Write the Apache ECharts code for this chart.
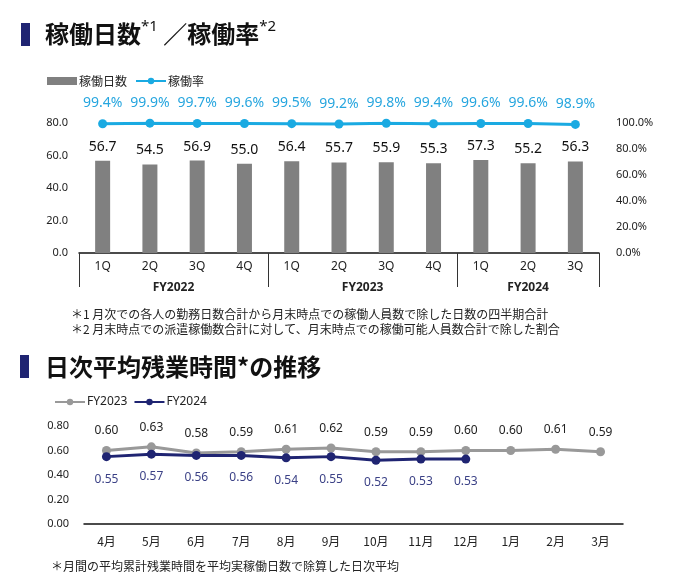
<!DOCTYPE html>
<html>
<head>
<meta charset="utf-8">
<script src="https://cdn.jsdelivr.net/npm/echarts@6/dist/echarts.min.js"></script>
<style>
  html, body { margin: 0; padding: 0; background: #fff; }
  #chart { width: 676px; height: 585px; }
</style>
</head>
<body>
<div id="chart"></div>
<script>
// top chart: quarterly working days and working rate
const quarters = ['1Q', '2Q', '3Q', '4Q', '1Q', '2Q', '3Q', '4Q', '1Q', '2Q', '3Q'];
const fiscalYears = ['FY2022', 'FY2023', 'FY2024'];
const quartersPerYear = [4, 4, 3];
const workDays = [56.7, 54.5, 56.9, 55.0, 56.4, 55.7, 55.9, 55.3, 57.3, 55.2, 56.3];
const workRate = [99.4, 99.9, 99.7, 99.6, 99.5, 99.2, 99.8, 99.4, 99.6, 99.6, 98.9];

// bottom chart: daily average overtime hours
const months = ['4月', '5月', '6月', '7月', '8月', '9月', '10月', '11月', '12月', '1月', '2月', '3月'];
const overtime2023 = [0.60, 0.63, 0.58, 0.59, 0.61, 0.62, 0.59, 0.59, 0.60, 0.60, 0.61, 0.59];
const overtime2024 = [0.55, 0.57, 0.56, 0.56, 0.54, 0.55, 0.52, 0.53, 0.53];

const FONT = '"Noto Sans", "Noto Sans CJK JP", sans-serif';
const JP = '"Noto Sans CJK JP", sans-serif';
const NAVY = '#1f2472';

// year group boundaries and centers on the quarter axis
const groupStarts = [];
const groupCenters = {};
let acc = 0;
quartersPerYear.forEach((n, i) => {
  groupStarts.push(acc);
  groupCenters[acc + n / 2] = fiscalYears[i];
  acc += n;
});

const chart = echarts.init(document.getElementById('chart'));

chart.setOption({
  animation: false,
  textStyle: { fontFamily: FONT },
  grid: [
    { left: 79, right: 77, top: 123, bottom: 332 },
    { left: 84, right: 53, top: 426, bottom: 61 }
  ],
  legend: [
    {
      left: 42, top: 70,
      itemWidth: 30, itemHeight: 8, itemGap: 8,
      textStyle: { fontSize: 12, color: '#222', fontFamily: JP, padding: [0, 0, 0, -3] },
      data: [{ name: '稼働日数', icon: 'rect' }, { name: '稼働率' }]
    },
    {
      left: 49, top: 391,
      itemWidth: 30, itemHeight: 8, itemGap: 6,
      textStyle: { fontSize: 12, color: '#222', padding: [0, 0, 0, -3] },
      data: ['FY2023', 'FY2024']
    }
  ],
  xAxis: [
    {
      type: 'category', gridIndex: 0, position: 'bottom',
      data: quarters,
      axisLine: { lineStyle: { color: '#111', width: 1.5 } },
      axisTick: {
        show: true, length: 34,
        lineStyle: { color: '#333', width: 1 },
        interval: (index) => groupStarts.includes(index)
      },
      axisLabel: { margin: 8, fontSize: 12, color: '#222' }
    },
    {
      type: 'value', gridIndex: 0, position: 'bottom',
      min: 0, max: quarters.length, interval: 0.5,
      axisLine: { show: false }, axisTick: { show: false }, splitLine: { show: false },
      axisLabel: {
        margin: 29, fontSize: 12, fontWeight: 'bold', color: '#222',
        formatter: (v) => groupCenters[v] || ''
      }
    },
    {
      type: 'category', gridIndex: 1, position: 'bottom',
      data: months,
      axisLine: { lineStyle: { color: '#111', width: 1.5 } },
      axisTick: { show: false },
      axisLabel: { margin: 11, fontSize: 12, color: '#222', fontFamily: JP }
    }
  ],
  yAxis: [
    {
      type: 'value', gridIndex: 0, min: 0, max: 80, interval: 20,
      axisLine: { show: false }, axisTick: { show: false }, splitLine: { show: false },
      axisLabel: { margin: 11, fontSize: 11, color: '#222', formatter: (v) => v.toFixed(1) }
    },
    {
      type: 'value', gridIndex: 0, min: 0, max: 100, interval: 20, position: 'right',
      axisLine: { show: false }, axisTick: { show: false }, splitLine: { show: false },
      axisLabel: { margin: 17, fontSize: 11, color: '#222', formatter: (v) => v.toFixed(1) + '%' }
    },
    {
      type: 'value', gridIndex: 1, min: 0, max: 0.8, interval: 0.2,
      axisLine: { show: false }, axisTick: { show: false }, splitLine: { show: false },
      axisLabel: { margin: 15, fontSize: 11, color: '#222', formatter: (v) => v.toFixed(2) }
    }
  ],
  series: [
    {
      name: '稼働日数', type: 'bar', xAxisIndex: 0, yAxisIndex: 0,
      data: workDays, barWidth: 15,
      itemStyle: { color: '#808080' },
      label: {
        show: true, position: 'top', distance: 7,
        fontSize: 14, color: '#111',
        formatter: (p) => p.value.toFixed(1)
      }
    },
    {
      name: '稼働率', type: 'line', xAxisIndex: 0, yAxisIndex: 1,
      data: workRate,
      symbol: 'circle', symbolSize: 9,
      lineStyle: { color: '#1aaae2', width: 3 },
      itemStyle: { color: '#1aaae2' },
      label: {
        show: true, position: 'top', distance: 9,
        fontSize: 14, color: '#27a6df',
        formatter: (p) => p.value.toFixed(1) + '%'
      }
    },
    {
      name: 'FY2023', type: 'line', xAxisIndex: 2, yAxisIndex: 2,
      data: overtime2023,
      symbol: 'circle', symbolSize: 9,
      lineStyle: { color: '#999999', width: 3 },
      itemStyle: { color: '#999999' },
      label: {
        show: true, position: 'top', distance: 9,
        fontSize: 12, color: '#222',
        formatter: (p) => p.value.toFixed(2)
      }
    },
    {
      name: 'FY2024', type: 'line', xAxisIndex: 2, yAxisIndex: 2,
      data: overtime2024,
      symbol: 'circle', symbolSize: 9,
      lineStyle: { color: NAVY, width: 3 },
      itemStyle: { color: NAVY },
      label: {
        show: true, position: 'bottom', distance: 12,
        fontSize: 12, color: '#3b4186',
        formatter: (p) => p.value.toFixed(2)
      }
    }
  ],
  graphic: [
    { type: 'rect', shape: { x: 21, y: 23, width: 9, height: 23 }, style: { fill: NAVY } },
    {
      type: 'text', x: 45, y: 34,
      style: {
        text: '{t|稼働日数}{s|*1}{t| ／稼働率}{s|*2}',
        verticalAlign: 'middle',
        rich: {
          t: { fontFamily: JP, fontSize: 24, fontWeight: 'bold', fill: '#111', lineHeight: 30 },
          s: { fontFamily: FONT, fontSize: 15, fill: '#111', verticalAlign: 'top', lineHeight: 30 }
        }
      }
    },
    {
      type: 'text', x: 71, y: 314,
      style: {
        text: '＊1 月次での各人の勤務日数合計から月末時点での稼働人員数で除した日数の四半期合計',
        font: '12px ' + JP, fill: '#222', verticalAlign: 'middle'
      }
    },
    {
      type: 'text', x: 71, y: 329,
      style: {
        text: '＊2 月末時点での派遣稼働数合計に対して、月末時点での稼働可能人員数合計で除した割合',
        font: '12px ' + JP, fill: '#222', verticalAlign: 'middle'
      }
    },
    { type: 'rect', shape: { x: 20, y: 355, width: 9, height: 23 }, style: { fill: NAVY } },
    {
      type: 'text', x: 45, y: 367,
      style: {
        text: '日次平均残業時間*の推移',
        font: 'bold 24px ' + JP, fill: '#111', verticalAlign: 'middle'
      }
    },
    {
      type: 'text', x: 51, y: 566,
      style: {
        text: '＊月間の平均累計残業時間を平均実稼働日数で除算した日次平均',
        font: '12px ' + JP, fill: '#222', verticalAlign: 'middle'
      }
    }
  ]
});
</script>
</body>
</html>
